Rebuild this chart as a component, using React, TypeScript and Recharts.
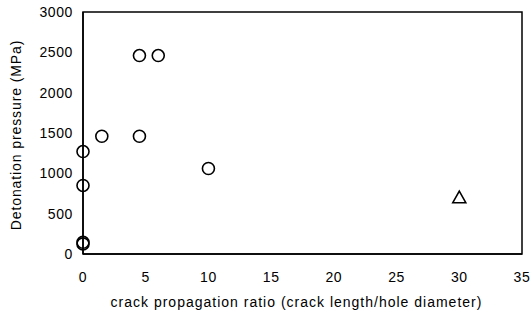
import React from "react";
import { ScatterChart, Scatter, XAxis, YAxis, ReferenceArea, Label } from "recharts";

const circleX = [0, 0, 0, 0, 1.5, 4.5, 4.5, 6, 10];
const circleY = [125, 145, 850, 1270, 1460, 1460, 2460, 2460, 1060];
const triangleX = [30];
const triangleY = [700];
const xTicks = [0, 5, 10, 15, 20, 25, 30, 35];
const yTicks = [0, 500, 1000, 1500, 2000, 2500, 3000];

const circleData = circleX.map((x, i) => ({ x, y: circleY[i] }));
const triangleData = triangleX.map((x, i) => ({ x, y: triangleY[i] }));

const FONT = "'Liberation Sans', Arial, sans-serif";

const CircleShape = (props: any) => (
  <circle cx={props.cx} cy={props.cy} r={6} fill="none" stroke="#000" strokeWidth={1.6} />
);
const TriangleShape = (props: any) => {
  const { cx, cy } = props;
  const s = 6.5;
  const pts = `${cx},${cy - s} ${cx - s},${cy + s * 0.8} ${cx + s},${cy + s * 0.8}`;
  return <polygon points={pts} fill="none" stroke="#000" strokeWidth={1.6} />;
};

const tickStyle = { fontFamily: FONT, fontSize: 14, fill: "#000", letterSpacing: 0.6 };

export default function App() {
  return (
    <div style={{ position: "absolute", left: 0, top: 0, background: "#fff" }}>
      <ScatterChart width={531} height={316} margin={{ top: 12, right: 9, left: 23, bottom: 22 }}>
        <XAxis
          type="number"
          dataKey="x"
          domain={[0, 35]}
          ticks={xTicks}
          tickLine={false}
          tickSize={0}
          tickMargin={18}
          height={40}
          axisLine={{ stroke: "#000", strokeWidth: 1.5 }}
          tick={tickStyle}
        >
          <Label
            value="crack propagation ratio (crack length/hole diameter)"
            position="bottom"
            offset={3}
            dx={-6}
            style={{ fontFamily: FONT, fontSize: 14, fill: "#000", letterSpacing: 1 }}
          />
        </XAxis>
        <YAxis
          type="number"
          dataKey="y"
          domain={[0, 3000]}
          ticks={yTicks}
          tickLine={false}
          tickSize={0}
          tickMargin={10}
          width={60}
          axisLine={{ stroke: "#000", strokeWidth: 1.5 }}
          tick={tickStyle}
        >
          <Label
            value="Detonation pressure (MPa)"
            angle={-90}
            position="insideLeft"
            offset={0}
            dx={-7}
            dy={2}
            style={{ fontFamily: FONT, fontSize: 14, fill: "#000", letterSpacing: 0.9, textAnchor: "middle" }}
          />
        </YAxis>
        <ReferenceArea x1={0} x2={35} y1={0} y2={3000} fill="none" stroke="#000" strokeWidth={1.5} fillOpacity={0} />
        <Scatter data={circleData} shape={CircleShape} isAnimationActive={false} />
        <Scatter data={triangleData} shape={TriangleShape} isAnimationActive={false} />
      </ScatterChart>
    </div>
  );
}
